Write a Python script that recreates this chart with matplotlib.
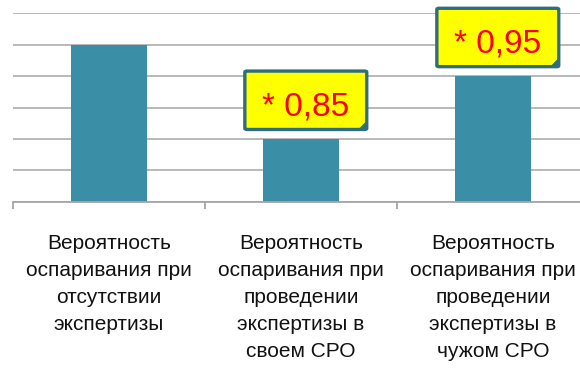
import matplotlib.pyplot as plt
from matplotlib.patches import FancyBboxPatch, Polygon

plt.rcParams['font.family'] = ['Liberation Sans', 'DejaVu Sans']

categories = [
    "Вероятность\nоспаривания при\nотсутствии\nэкспертизы",
    "Вероятность\nоспаривания при\nпроведении\nэкспертизы в\nсвоем СРО",
    "Вероятность\nоспаривания при\nпроведении\nэкспертизы в\nчужом СРО",
]
values = [1.0, 0.85, 0.95]
callouts = ["", "* 0,85", "* 0,95"]

BAR_COLOR = "#3A8EA5"
GRID_COLOR = "#A6A6A6"
BOX_EDGE = "#2C6E7E"

fig = plt.figure(figsize=(5.8, 3.82), dpi=100)
ax = fig.add_axes([13 / 580, (382 - 201.7) / 382, 576 / 580, (201.7 - 13.3) / 382])

x = range(len(categories))
ax.bar(x, values, width=0.4, color=BAR_COLOR, zorder=3)
ax.set_xlim(-0.5, 2.5)
ax.set_ylim(0.75, 1.05)

# horizontal grid every 0.05
ax.set_yticks([0.75, 0.8, 0.85, 0.9, 0.95, 1.0, 1.05])
ax.yaxis.grid(True, color=GRID_COLOR, linewidth=1.1, zorder=0)
ax.tick_params(axis='y', left=False, labelleft=False)
for side in ['left', 'right', 'top']:
    ax.spines[side].set_visible(False)
ax.spines['bottom'].set_color(GRID_COLOR)
ax.spines['bottom'].set_linewidth(1.3)
ax.spines['bottom'].set_zorder(4)

# category separators as ticks, labels drawn as text below
ax.set_xticks([-0.5, 0.5, 1.5, 2.5])
ax.set_xticklabels([])
ax.tick_params(axis='x', length=5, width=1.3, color=GRID_COLOR, direction='out')

for i, label in enumerate(categories):
    ax.annotate(label, xy=(i, 0.75), xycoords='data', xytext=(0, -23.5),
                textcoords='offset points', ha='center', va='top',
                multialignment='center', fontsize=15, linespacing=1.53,
                color='#111111', annotation_clip=False)

# yellow callouts above the bars
box_w, box_h = 0.635, 0.093
fold_x, fold_y = 0.04, 0.0125
for i, (v, txt) in enumerate(zip(values, callouts)):
    if not txt:
        continue
    cx = i + 0.025
    y0 = v + 0.015
    box = FancyBboxPatch((cx - box_w / 2, y0), box_w, box_h,
                         boxstyle="round,pad=0,rounding_size=0.012",
                         mutation_aspect=0.15,
                         facecolor='#FFFF00', edgecolor=BOX_EDGE,
                         linewidth=2.4, zorder=5, clip_on=False)
    ax.add_patch(box)
    # folded corner
    xr = cx + box_w / 2
    fold = Polygon([(xr, y0 + fold_y), (xr - fold_x, y0), (xr - fold_x * 0.2, y0 + fold_y * 0.15)],
                   closed=True, facecolor=BOX_EDGE, edgecolor=BOX_EDGE,
                   linewidth=1, zorder=6, clip_on=False)
    ax.add_patch(fold)
    ax.text(cx, y0 + box_h * 0.44, txt, ha='center', va='center_baseline',
            fontsize=24, color='#FF0000', zorder=7, clip_on=False)

fig.savefig("out.png", dpi=100)
